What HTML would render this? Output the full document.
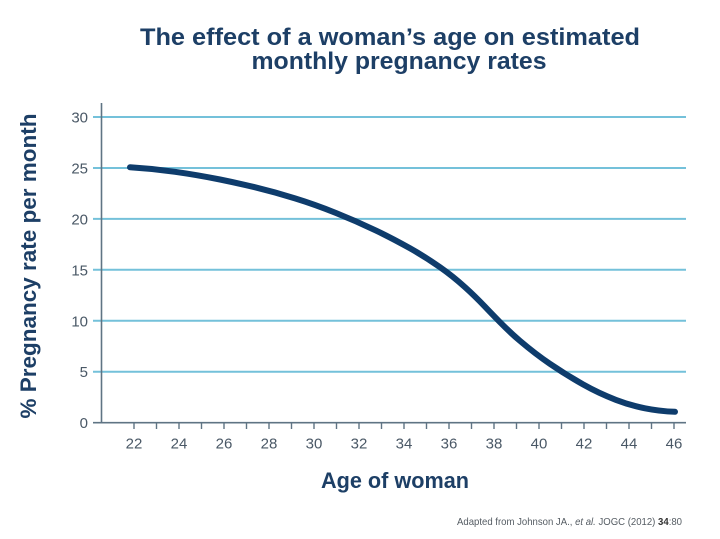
<!DOCTYPE html>
<html>
<head>
<meta charset="utf-8">
<style>
  html, body { margin: 0; padding: 0; background: #ffffff; }
  svg { display: block; }
  text { font-family: "Liberation Sans", Arial, sans-serif; }
</style>
</head>
<body>
<svg width="720" height="539" viewBox="0 0 720 539" xmlns="http://www.w3.org/2000/svg">
  <rect x="0" y="0" width="720" height="539" fill="#ffffff"/>

  <!-- Title -->
  <text x="390" y="45" text-anchor="middle" font-size="24" font-weight="bold" fill="#1d3f66" textLength="500" lengthAdjust="spacingAndGlyphs">The effect of a woman’s age on estimated</text>
  <text x="399" y="69" text-anchor="middle" font-size="24" font-weight="bold" fill="#1d3f66" textLength="295" lengthAdjust="spacingAndGlyphs">monthly pregnancy rates</text>

  <!-- Gridlines -->
  <g stroke="#74c1da" stroke-width="2">
    <line x1="93" y1="117" x2="686" y2="117"/>
    <line x1="93" y1="168" x2="686" y2="168"/>
    <line x1="93" y1="218.9" x2="686" y2="218.9"/>
    <line x1="93" y1="269.8" x2="686" y2="269.8"/>
    <line x1="93" y1="320.8" x2="686" y2="320.8"/>
    <line x1="93" y1="371.7" x2="686" y2="371.7"/>
  </g>

  <!-- Axes -->
  <g stroke="#5f7484" stroke-width="1.6">
    <line x1="101.5" y1="103" x2="101.5" y2="423"/>
    <line x1="93" y1="422.7" x2="686" y2="422.7"/>
  </g>
  <!-- X ticks -->
  <g stroke="#5f7484" stroke-width="1.4">
    <line x1="134" y1="422.7" x2="134" y2="429"/>
    <line x1="156.5" y1="422.7" x2="156.5" y2="429"/>
    <line x1="179" y1="422.7" x2="179" y2="429"/>
    <line x1="201.5" y1="422.7" x2="201.5" y2="429"/>
    <line x1="224" y1="422.7" x2="224" y2="429"/>
    <line x1="246.5" y1="422.7" x2="246.5" y2="429"/>
    <line x1="269" y1="422.7" x2="269" y2="429"/>
    <line x1="291.5" y1="422.7" x2="291.5" y2="429"/>
    <line x1="314" y1="422.7" x2="314" y2="429"/>
    <line x1="336.5" y1="422.7" x2="336.5" y2="429"/>
    <line x1="359" y1="422.7" x2="359" y2="429"/>
    <line x1="381.5" y1="422.7" x2="381.5" y2="429"/>
    <line x1="404" y1="422.7" x2="404" y2="429"/>
    <line x1="426.5" y1="422.7" x2="426.5" y2="429"/>
    <line x1="449" y1="422.7" x2="449" y2="429"/>
    <line x1="471.5" y1="422.7" x2="471.5" y2="429"/>
    <line x1="494" y1="422.7" x2="494" y2="429"/>
    <line x1="516.5" y1="422.7" x2="516.5" y2="429"/>
    <line x1="539" y1="422.7" x2="539" y2="429"/>
    <line x1="561.5" y1="422.7" x2="561.5" y2="429"/>
    <line x1="584" y1="422.7" x2="584" y2="429"/>
    <line x1="606.5" y1="422.7" x2="606.5" y2="429"/>
    <line x1="629" y1="422.7" x2="629" y2="429"/>
    <line x1="651.5" y1="422.7" x2="651.5" y2="429"/>
    <line x1="674" y1="422.7" x2="674" y2="429"/>
  </g>

  <!-- Y tick labels -->
  <g font-size="15" fill="#4a5866" text-anchor="end">
    <text x="88" y="122.5">30</text>
    <text x="88" y="173.5">25</text>
    <text x="88" y="224.4">20</text>
    <text x="88" y="275.3">15</text>
    <text x="88" y="326.3">10</text>
    <text x="88" y="377.2">5</text>
    <text x="88" y="428.2">0</text>
  </g>

  <!-- X tick labels -->
  <g font-size="15" fill="#4a5866" text-anchor="middle">
    <text x="134" y="448.5">22</text>
    <text x="179" y="448.5">24</text>
    <text x="224" y="448.5">26</text>
    <text x="269" y="448.5">28</text>
    <text x="314" y="448.5">30</text>
    <text x="359" y="448.5">32</text>
    <text x="404" y="448.5">34</text>
    <text x="449" y="448.5">36</text>
    <text x="494" y="448.5">38</text>
    <text x="539" y="448.5">40</text>
    <text x="584" y="448.5">42</text>
    <text x="629" y="448.5">44</text>
    <text x="674" y="448.5">46</text>
  </g>

  <!-- Curve (smooth Hermite) -->
  <path fill="none" stroke="#0e3c6c" stroke-width="6" stroke-linecap="round" stroke-linejoin="round"
    d="M130,167.3
       C145,168.2 160,169.7 175,171.8
       C190,173.9 205,176.5 220,179.5
       C228.3,181.2 236.7,183.0 245,184.9
       C261.7,188.7 278.3,193.2 295,198.4
       C308.7,202.6 322.3,207.5 336,213
       C349.3,218.3 362.7,224.2 376,230.6
       C387.3,236.0 398.7,242.0 410,248.3
       C420,253.9 430,260.2 440,267.2
       C448.3,273.0 456.7,279.7 465,287.2
       C471.7,293.2 478.3,299.7 485,306.7
       C490,312.0 495,317.1 500,322.2
       C506.7,329.0 513.3,335.2 520,340.9
       C530,349.4 540,357.1 550,363.9
       C561,371.4 572,378.2 583,384.4
       C594,390.6 605,395.7 616,399.9
       C625.7,403.6 635.3,406.4 645,408.3
       C655,410.3 665,411.5 675,411.8"/>

  <!-- Axis titles -->
  <text x="395" y="488" text-anchor="middle" font-size="22" font-weight="bold" fill="#1d3f66" textLength="148" lengthAdjust="spacingAndGlyphs">Age of woman</text>
  <text transform="translate(36,266) rotate(-90)" x="0" y="0" text-anchor="middle" font-size="22" font-weight="bold" fill="#1d3f66" textLength="305" lengthAdjust="spacingAndGlyphs">% Pregnancy rate per month</text>

  <!-- Footnote -->
  <text x="682" y="525" text-anchor="end" font-size="10.5" fill="#555c63" textLength="225" lengthAdjust="spacingAndGlyphs">Adapted from Johnson JA., <tspan font-style="italic">et al.</tspan> JOGC (2012) <tspan font-weight="bold" fill="#333">34</tspan>:80</text>
</svg>
</body>
</html>
